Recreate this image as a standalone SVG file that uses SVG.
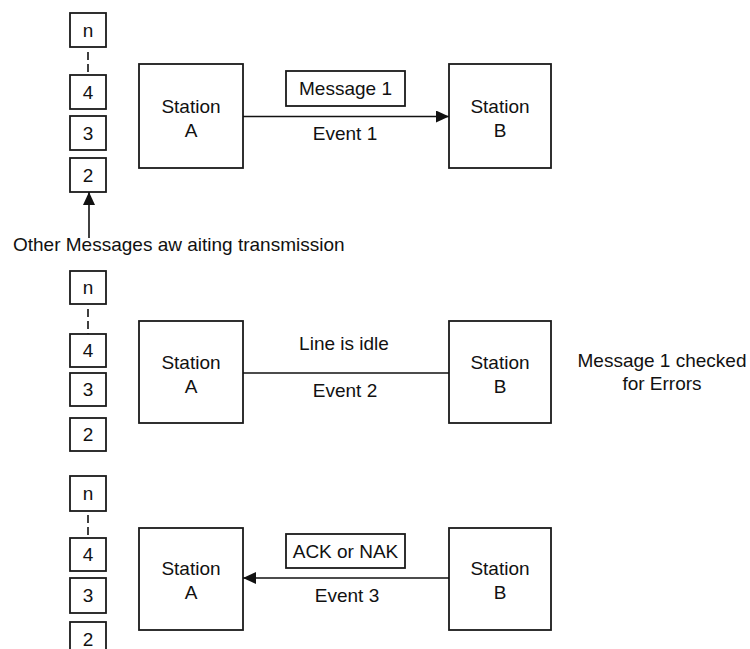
<svg xmlns="http://www.w3.org/2000/svg" width="750" height="649" viewBox="0 0 750 649">
<style>
  .box { fill: #fff; stroke: #1a1a1a; stroke-width: 1.8; }
  .q { fill: #fff; stroke: #1a1a1a; stroke-width: 1.8; }
  .ln { fill: none; stroke: #111; stroke-width: 1.6; }
  .dash { fill: none; stroke: #111; stroke-width: 1.6; stroke-dasharray: 8 4; }
  text { font-family: "Liberation Sans", Arial, sans-serif; font-size: 19px; fill: #111; }
  .c { text-anchor: middle; }
</style>
<defs>
  <marker id="arr" markerUnits="userSpaceOnUse" markerWidth="14" markerHeight="14" refX="13" refY="6" orient="auto">
    <path d="M0,0 L13,6 L0,12 Z" fill="#111"/>
  </marker>
</defs>
<rect width="750" height="649" fill="#fff"/>

<!-- Event 1 -->
<g id="queue1">
  <rect class="q" x="70" y="13" width="36" height="34"/><text class="c" x="88" y="37">n</text>
  <path class="dash" d="M88,52 V75"/>
  <rect class="q" x="70" y="75" width="36" height="34"/><text class="c" x="88" y="99">4</text>
  <rect class="q" x="70" y="116" width="36" height="34"/><text class="c" x="88" y="140">3</text>
  <rect class="q" x="70" y="158" width="36" height="34"/><text class="c" x="88" y="182">2</text>
</g>
<g id="stationA1">
  <rect class="box" x="139" y="64" width="104" height="104"/>
  <text class="c" x="191" y="113">Station</text><text class="c" x="191" y="137">A</text>
</g>
<g id="stationB1">
  <rect class="box" x="449" y="64" width="102" height="104"/>
  <text class="c" x="500" y="113">Station</text><text class="c" x="500" y="137">B</text>
</g>
<g id="message1">
  <rect class="box" x="286" y="71" width="119" height="35"/>
  <text class="c" x="345.5" y="95">Message 1</text>
</g>
<text id="event1" class="c" x="345" y="140">Event 1</text>
<text id="waiting" x="13" y="251">Other Messages aw aiting transmission</text>

<!-- Event 2 -->
<g id="queue2">
  <rect class="q" x="70" y="271" width="36" height="33"/><text class="c" x="88" y="294">n</text>
  <path class="dash" d="M88,309 V334"/>
  <rect class="q" x="70" y="334" width="36" height="33"/><text class="c" x="88" y="357">4</text>
  <rect class="q" x="70" y="373" width="36" height="33"/><text class="c" x="88" y="396">3</text>
  <rect class="q" x="70" y="418" width="36" height="33"/><text class="c" x="88" y="441">2</text>
</g>
<g id="stationA2">
  <rect class="box" x="139" y="321" width="104" height="102"/>
  <text class="c" x="191" y="369">Station</text><text class="c" x="191" y="393">A</text>
</g>
<g id="stationB2">
  <rect class="box" x="449" y="321" width="102" height="102"/>
  <text class="c" x="500" y="369">Station</text><text class="c" x="500" y="393">B</text>
</g>
<text id="idle" class="c" x="344" y="350">Line is idle</text>
<text id="event2" class="c" x="345" y="397">Event 2</text>
<g id="checked">
  <text class="c" x="662" y="367">Message 1 checked</text>
  <text class="c" x="662" y="390">for Errors</text>
</g>

<!-- Event 3 -->
<g id="queue3">
  <rect class="q" x="70" y="476" width="36" height="35"/><text class="c" x="88" y="500">n</text>
  <path class="dash" d="M88,515 V538"/>
  <rect class="q" x="70" y="538" width="36" height="33"/><text class="c" x="88" y="561">4</text>
  <rect class="q" x="70" y="578" width="36" height="35"/><text class="c" x="88" y="602">3</text>
  <rect class="q" x="70" y="622" width="36" height="40"/><text class="c" x="88" y="646">2</text>
</g>
<g id="stationA3">
  <rect class="box" x="139" y="528" width="104" height="102"/>
  <text class="c" x="191" y="575">Station</text><text class="c" x="191" y="599">A</text>
</g>
<g id="stationB3">
  <rect class="box" x="449" y="528" width="102" height="102"/>
  <text class="c" x="500" y="575">Station</text><text class="c" x="500" y="599">B</text>
</g>
<g id="acknak">
  <rect class="box" x="286" y="534" width="119" height="34"/>
  <text class="c" x="345.5" y="558">ACK or NAK</text>
</g>
<text id="event3" class="c" x="347" y="602">Event 3</text>

<g id="connectors">
  <path class="ln" d="M243,116.5 H449" marker-end="url(#arr)"/>
  <path class="ln" d="M89,238 V192" marker-end="url(#arr)"/>
  <path class="ln" d="M243,373 H449"/>
  <path class="ln" d="M449,578 H243" marker-end="url(#arr)"/>
</g>
</svg>
